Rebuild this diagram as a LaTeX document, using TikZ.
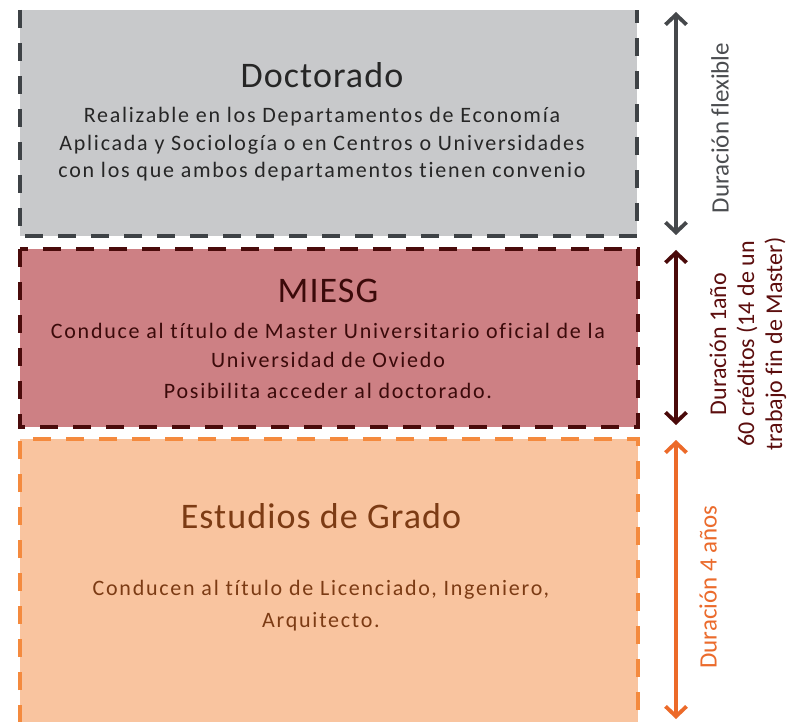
\documentclass[tikz,border=0pt]{standalone}
\usepackage{fontspec}
\setmainfont{Carlito}[Ligatures=NoCommon]
\newfontfamily\bodyspaced{Carlito}[LetterSpace=8,Ligatures=NoCommon]
\newfontfamily\titlespaced{Carlito}[LetterSpace=3,Ligatures=NoCommon]
\usetikzlibrary{arrows.meta}
\definecolor{docfill}{HTML}{C8C9CB}
\definecolor{docline}{HTML}{3E4246}
\definecolor{docarrow}{HTML}{45484B}
\definecolor{doctext}{HTML}{262626}
\definecolor{doclabel}{HTML}{4B4D50}
\definecolor{mfill}{HTML}{CD8084}
\definecolor{mline}{HTML}{4A0B0B}
\definecolor{marrow}{HTML}{4A0A0A}
\definecolor{mtext}{HTML}{3B0A0A}
\definecolor{mlabel}{HTML}{5C0E0E}
\definecolor{efill}{HTML}{F9C49F}
\definecolor{eline}{HTML}{F48A3E}
\definecolor{earrow}{HTML}{EC6A29}
\definecolor{etext}{HTML}{7C3B14}
\definecolor{elabel}{HTML}{EB6B2C}
\begin{document}
\begin{tikzpicture}[x=1pt,y=-1pt,
  panel/.style={draw=none,inner sep=0pt,outer sep=0pt},
  border/.style={line width=4pt,dash pattern=on 18pt off 15pt},
  ttl/.style={anchor=base,inner sep=0pt,font=\titlespaced\fontsize{36}{40}\selectfont},
  body/.style={anchor=base,inner sep=0pt,font=\bodyspaced\fontsize{22}{26}\selectfont},
  durlabel/.style={rotate=90,inner sep=0pt,align=center,font=\fontsize{25}{28.5}\selectfont},
  durlabelsm/.style={rotate=90,inner sep=0pt,align=center,font=\fontsize{24}{28}\selectfont},
  dur/.style={line width=3.8pt,<->,>={Straight Barb[length=10pt,width=21pt]}}
]
\useasboundingbox (0,0) rectangle (788,722);
\fill[white] (0,0) rectangle (788,722);
% panels
\node[panel,fill=docfill,minimum width=617pt,minimum height=226pt] (doc) at (328.5,123) {};
\node[panel,fill=mfill,minimum width=618pt,minimum height=178pt] (mie) at (329,338) {};
\node[panel,fill=efill,minimum width=618pt,minimum height=284pt] (est) at (329,581) {};
% borders
\draw[border,docline] (doc.north west) -- (doc.south west) -- (doc.south east) -- (doc.north east);
\draw[border,mline] (mie.north west) rectangle (mie.south east);
\draw[border,eline] (est.south west) -- (est.north west) -- (est.north east) -- (est.south east);
% Doctorado texts
\node[ttl,text=doctext] (doct) at (322,88) {Doctorado};
\node[body,text=doctext] (docl1) at (322,123) {Realizable en los Departamentos de Economía};
\node[body,text=doctext] (docl2) at (322,150.5) {Aplicada y Sociología o en Centros o Universidades};
\node[body,text=doctext] (docl3) at (322,178) {con los que ambos departamentos tienen convenio};
% MIESG texts
\node[ttl,text=mtext] (miet) at (328,303) {MIESG};
\node[body,text=mtext] (miel1) at (328,338) {Conduce al título de Master Universitario oficial de la};
\node[body,text=mtext] (miel2) at (328,367) {Universidad de Oviedo};
\node[body,text=mtext] (miel3) at (328,399) {Posibilita acceder al doctorado.};
% Estudios texts
\node[ttl,text=etext] (estt) at (321,528) {Estudios de Grado};
\node[body,text=etext] (estl1) at (321,595) {Conducen al título de Licenciado, Ingeniero,};
\node[body,text=etext] (estl2) at (321,627) {Arquitecto.};
% arrows
\coordinate (ga1) at (676,12);
\coordinate (ga2) at (676,235);
\coordinate (ma1) at (676,250);
\coordinate (ma2) at (676,425);
\coordinate (ea1) at (676,440);
\coordinate (ea2) at (676,719);
\draw[dur,docarrow] (ga1) -- (ga2);
\draw[dur,marrow] (ma1) -- (ma2);
\draw[dur,earrow] (ea1) -- (ea2);
% labels
\node[durlabel,text=doclabel] (gl) at (720,128) {Duración flexible};
\node[durlabelsm,text=mlabel] (ml) at (748,344) {Duración 1año\\60 créditos (14 de un\\trabajo fin de Master)};
\node[durlabel,text=elabel] (el) at (708,587) {Duración 4 años};
\end{tikzpicture}
\end{document}
